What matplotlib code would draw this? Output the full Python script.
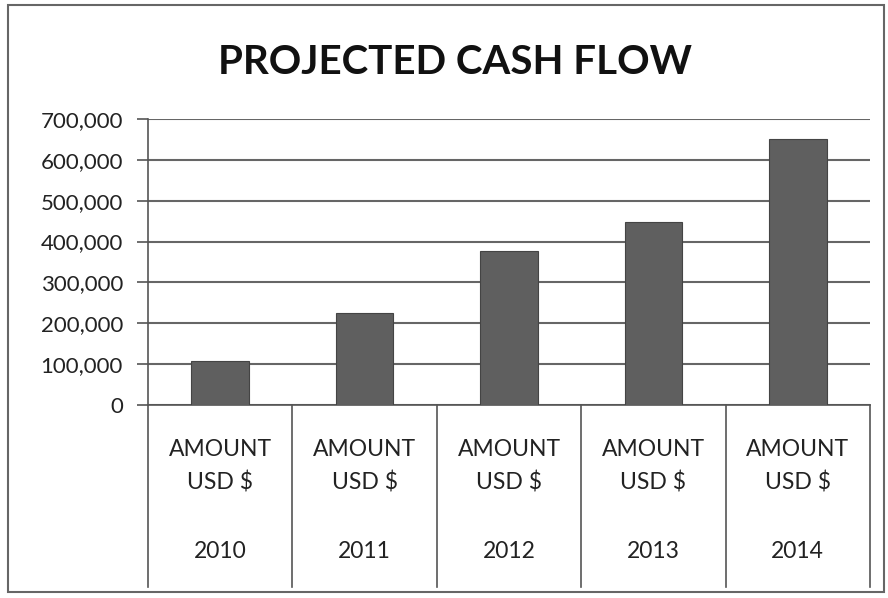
import matplotlib
matplotlib.use("Agg")
import matplotlib.pyplot as plt
from matplotlib.patches import Rectangle
from matplotlib.ticker import FuncFormatter
import matplotlib.transforms as mtransforms

plt.rcParams['font.family'] = ['Lato', 'DejaVu Sans']

# 数据
years = ['2010', '2011', '2012', '2013', '2014']
row_label = 'AMOUNT\nUSD $'
amounts = [108000, 225000, 376000, 448000, 650000]
y_ticks = [0, 100000, 200000, 300000, 400000, 500000, 600000, 700000]

fig = plt.figure(figsize=(8.88, 5.98), dpi=100)
ax = fig.add_axes([148 / 888, 1 - 405 / 598, (870 - 148) / 888, (405 - 119) / 598])

x = list(range(len(years)))
ax.bar(x, amounts, width=0.4, color='#5f5f5f', edgecolor='#444444', linewidth=0.8, zorder=3)

ax.set_xlim(-0.5, len(years) - 0.5)
ax.set_ylim(0, 700000)
ax.set_yticks(y_ticks)
ax.yaxis.set_major_formatter(FuncFormatter(lambda v, p: f'{int(v):,}'))
ax.tick_params(axis='y', labelsize=16, length=8, width=1.2, color='#555555',
               labelcolor='#222222', pad=10)
ax.set_xticks([])
ax.grid(axis='y', color='#666666', linewidth=1.5, zorder=0)

for s in ['top', 'right']:
    ax.spines[s].set_visible(False)
ax.spines['left'].set_color('#555555')
ax.spines['left'].set_linewidth(1.2)
ax.spines['bottom'].set_color('#555555')
ax.spines['bottom'].set_linewidth(1.2)

# 类别表格（分隔线 + 文字）
trans = mtransforms.blended_transform_factory(ax.transData, ax.transAxes)
bottom_frac = (405 - 587) / (405 - 119)
for b in [i - 0.5 for i in range(len(years) + 1)]:
    ax.plot([b, b], [0, bottom_frac], transform=trans, color='#555555',
            linewidth=1.2, clip_on=False)

for i, yr in enumerate(years):
    ax.text(i, (405 - 466) / 286, row_label, transform=trans, ha='center', va='center',
            fontsize=16.5, color='#222222', linespacing=1.65)
    ax.text(i, (405 - 552) / 286, yr, transform=trans, ha='center', va='center',
            fontsize=16.5, color='#222222')

fig.text(455 / 888, 1 - 62 / 598, 'PROJECTED CASH FLOW', ha='center', va='center',
         fontsize=29, fontweight='bold', color='#111111')

# 外框
fig.patches.append(Rectangle((8 / 888, 1 - 592 / 598), (884 - 8) / 888, (592 - 5) / 598,
                             transform=fig.transFigure, fill=False,
                             edgecolor='#666666', linewidth=1.5))

fig.savefig('out.png', dpi=100, facecolor='white')
